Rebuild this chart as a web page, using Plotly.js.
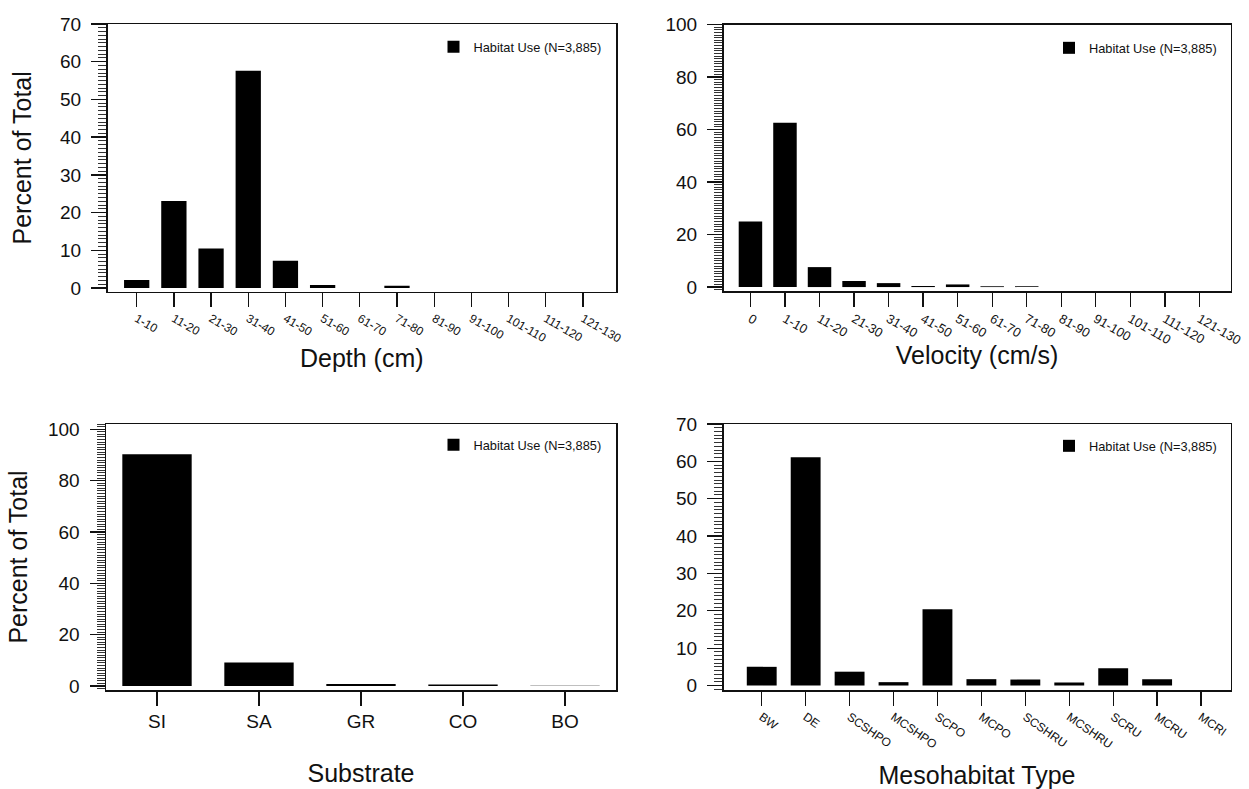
<!DOCTYPE html>
<html>
<head>
<meta charset="utf-8">
<script src="https://cdn.plot.ly/plotly-3.0.1.min.js"></script>
<style>html,body{margin:0;padding:0;background:#fff;}#chart{width:1249px;height:789px;}</style>
</head>
<body>
<div id="chart"></div>
<script>
// ---- data ----
const seriesName = 'Habitat Use (N=3,885)';
const depthLabels = ['1-10','11-20','21-30','31-40','41-50','51-60','61-70','71-80','81-90','91-100','101-110','111-120','121-130'];
const depthValues = [2.1, 23.1, 10.5, 57.6, 7.2, 0.8, 0, 0.6, 0, 0, 0, 0, 0];
const velocityLabels = ['0','1-10','11-20','21-30','31-40','41-50','51-60','61-70','71-80','81-90','91-100','101-110','111-120','121-130'];
const velocityValues = [25.0, 62.6, 7.6, 2.3, 1.5, 0.4, 1.0, 0.3, 0.3, 0, 0, 0, 0, 0];
const substrateLabels = ['SI','SA','GR','CO','BO'];
const substrateValues = [90.3, 9.2, 0.8, 0.6, 0.1];
const mesoLabels = ['BW','DE','SCSHPO','MCSHPO','SCPO','MCPO','SCSHRU','MCSHRU','SCRU','MCRU','MCRI'];
const mesoValues = [5.0, 61.1, 3.7, 0.9, 20.4, 1.7, 1.6, 0.8, 4.6, 1.7, 0];
const yTitle = 'Percent of Total';
const xTitles = ['Depth (cm)', 'Velocity (cm/s)', 'Substrate', 'Mesohabitat Type'];

// ---- layout helpers ----
const W = 1249, H = 789;
const FONT = 'Liberation Sans, Arial, sans-serif';
const INK = '#111';
const px = v => v / W;
const py = v => 1 - v / H;

function bar(x, y, ax, leg) {
  return {
    type: 'bar', x: x, y: y, name: seriesName,
    xaxis: 'x' + ax, yaxis: 'y' + ax, legend: leg,
    marker: {color: '#000', line: {width: 0}},
    showlegend: true, hoverinfo: 'x+y'
  };
}

const traces = [
  bar(depthLabels, depthValues, '', 'legend'),
  bar(velocityLabels, velocityValues, '2', 'legend2'),
  bar(substrateLabels, substrateValues, '3', 'legend3'),
  bar(mesoLabels, mesoValues, '4', 'legend4')
];

function xaxis(domain, range, title, angle, fsize, standoff, anchor) {
  return {
    domain: domain, range: range, type: 'category', anchor: anchor,
    showline: true, mirror: true, linecolor: INK, linewidth: 1.5,
    ticks: 'outside', ticklen: 14, tickwidth: 1.3, tickcolor: INK,
    tickangle: angle, tickfont: {family: FONT, size: fsize, color: INK},
    showgrid: false, zeroline: false, fixedrange: true,
    title: {text: title, font: {family: FONT, size: 25, color: INK}, standoff: standoff}
  };
}
function yaxis(domain, range, dtick, title, standoff, anchor) {
  return {
    domain: domain, range: range, anchor: anchor,
    showline: true, mirror: true, linecolor: INK, linewidth: 1.5,
    ticks: 'outside', ticklen: 15, tickwidth: 1.3, tickcolor: INK,
    tick0: 0, dtick: dtick, ticklabelstandoff: 6,
    minor: {dtick: 1, ticklen: 8, tickwidth: 1, tickcolor: '#333', ticks: 'outside', showgrid: false},
    tickfont: {family: FONT, size: 19, color: INK},
    showgrid: false, zeroline: false, fixedrange: true,
    title: title ? {text: title, font: {family: FONT, size: 25, color: INK}, standoff: standoff} : {text: ''}
  };
}
function legend(xText, yc) {
  return {
    x: px(xText - 42), y: py(yc), xanchor: 'left', yanchor: 'middle',
    bgcolor: 'rgba(0,0,0,0)', borderwidth: 0,
    font: {family: FONT, size: 12.8, color: INK}
  };
}

const layout = {
  width: W, height: H, autosize: false,
  margin: {l: 0, r: 0, t: 0, b: 0},
  paper_bgcolor: '#fff', plot_bgcolor: '#fff',
  bargap: 0.32,
  font: {family: FONT, color: INK},
  xaxis:  xaxis([px(107.5), px(616)],  [-0.785, 12.89], xTitles[0], 30, 12, 5, 'y'),
  yaxis:  yaxis([py(291.7), py(24)],   [-0.98, 70], 10, yTitle, 21, 'x'),
  xaxis2: xaxis([px(723.5), px(1230.5)], [-0.78, 13.9], xTitles[1], 30, 13, 0, 'y2'),
  yaxis2: yaxis([py(291), py(24.5)],   [-1.5, 100], 20, null, 0, 'x2'),
  xaxis3: xaxis([px(106), px(616)],    [-0.5, 4.5], xTitles[2], 0, 19, 33, 'y3'),
  yaxis3: yaxis([py(690), py(424)],    [-1.56, 102.06], 20, yTitle, 13, 'x3'),
  xaxis4: xaxis([px(723.5), px(1230.5)], [-0.87, 10.67], xTitles[3], 35, 12, 18, 'y4'),
  yaxis4: yaxis([py(690), py(424)],    [-1.2, 70], 10, null, 0, 'x4'),
  legend:  legend(475.5, 47),
  legend2: legend(1091, 48),
  legend3: legend(475.5, 445),
  legend4: legend(1091, 446)
};

Plotly.newPlot('chart', traces, layout, {displayModeBar: false, staticPlot: true});
</script>
</body>
</html>
